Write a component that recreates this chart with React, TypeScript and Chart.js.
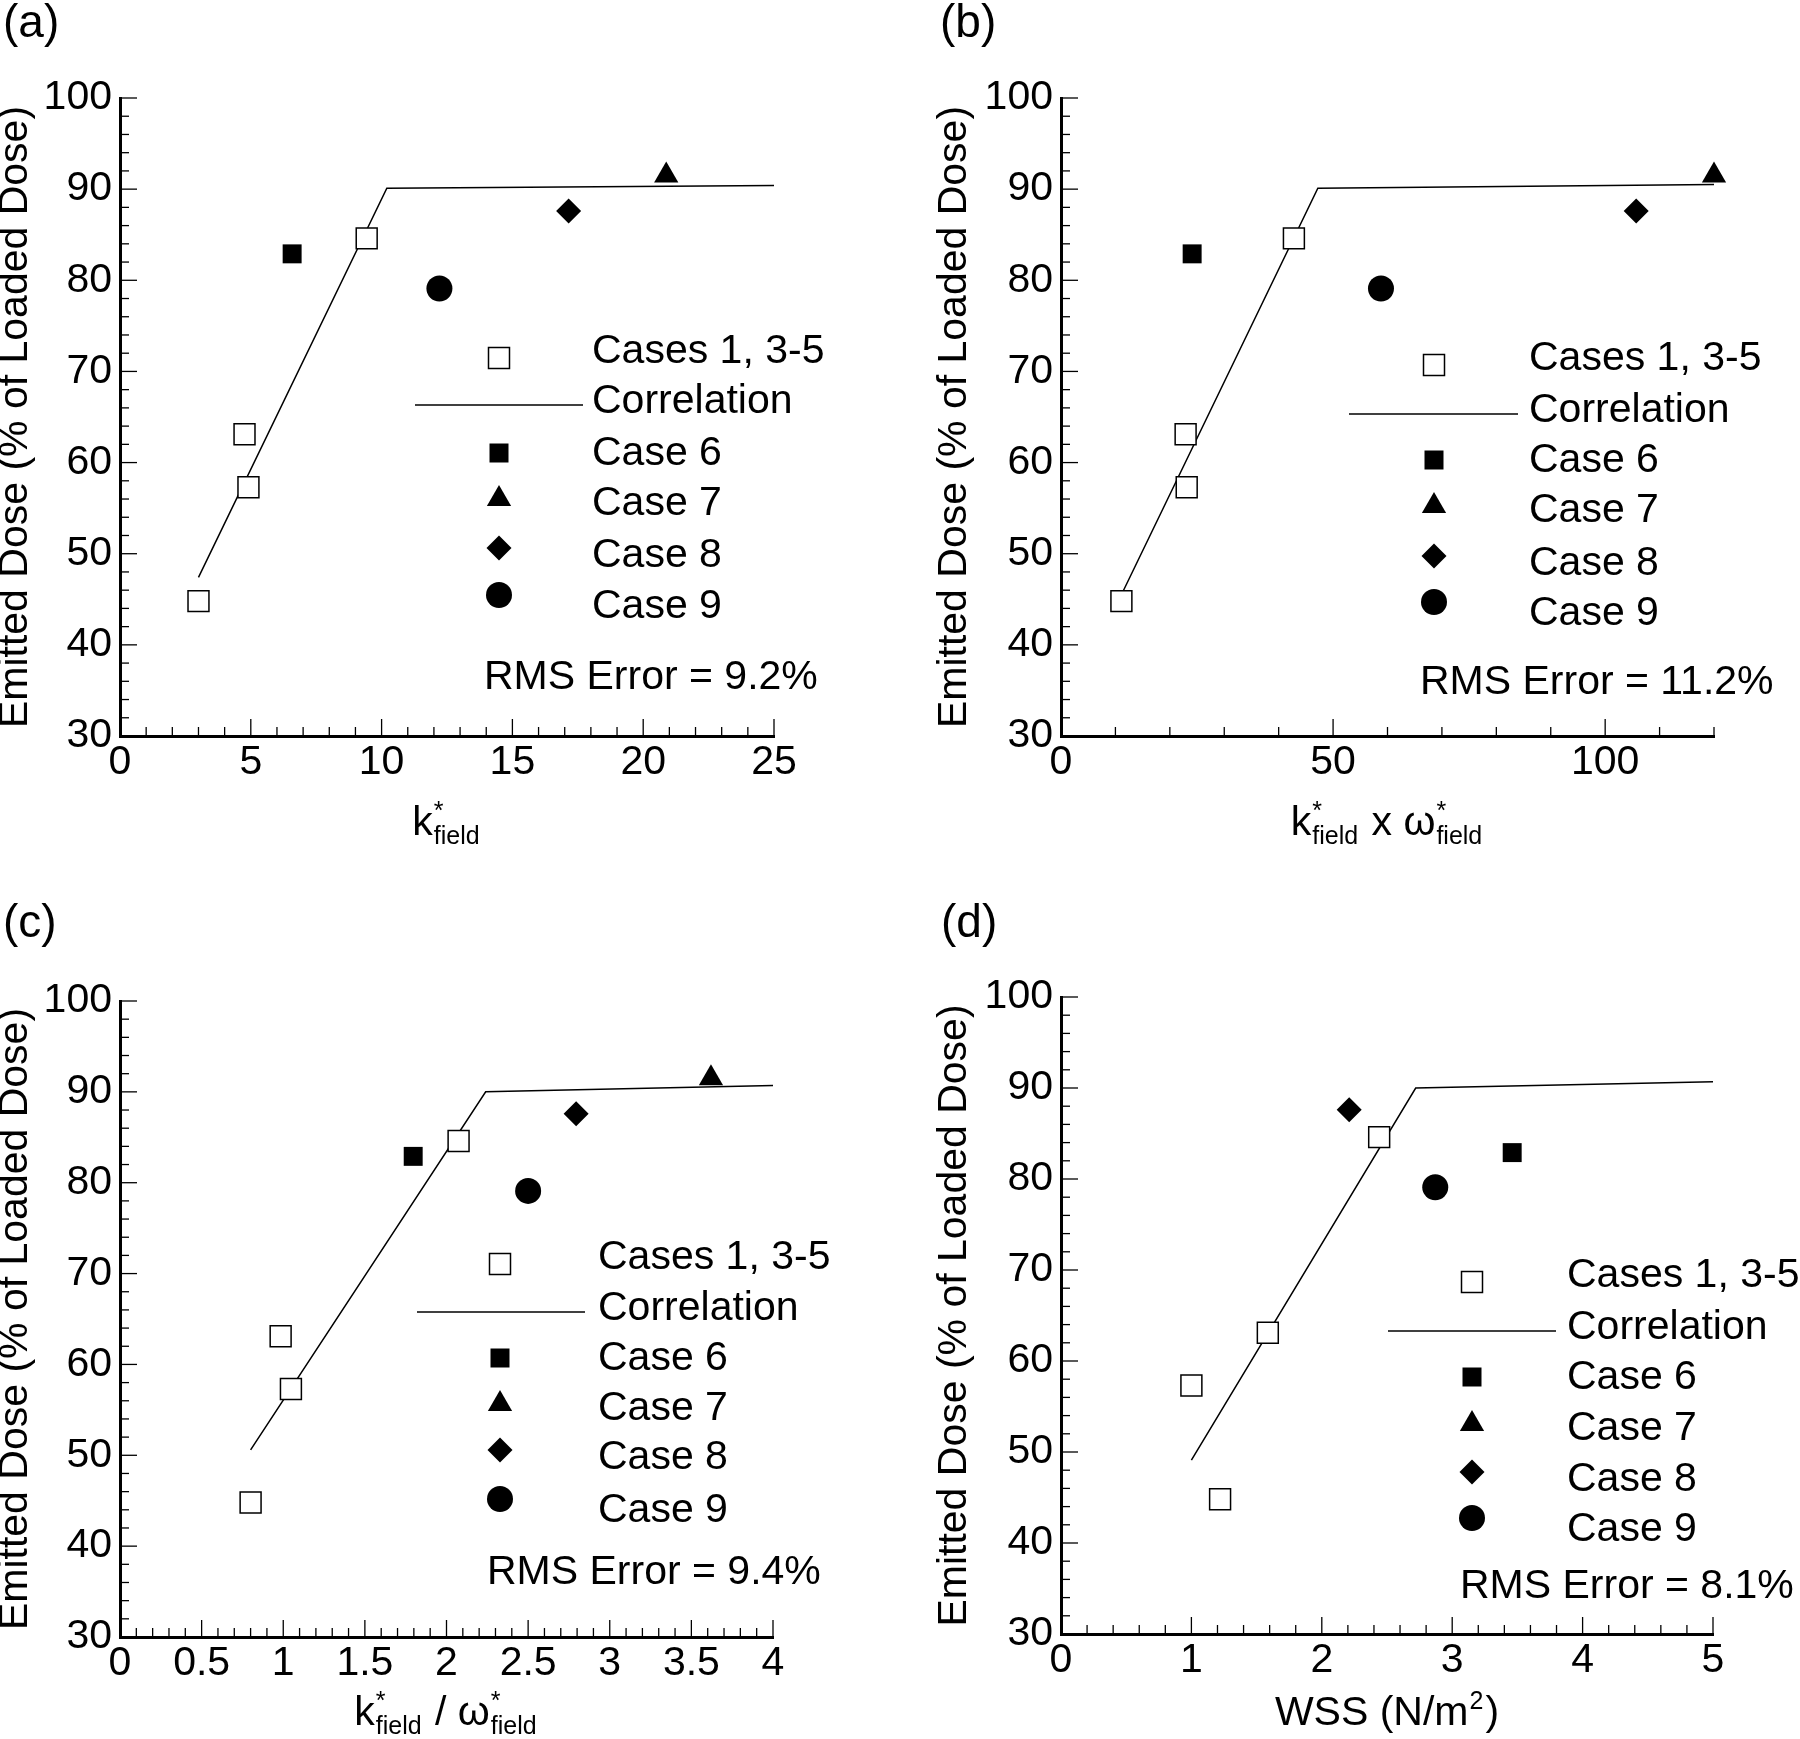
import React, { useEffect, useRef } from 'react';
import { Chart, registerables } from 'chart.js';

Chart.register(...registerables);

const FONT = '"Liberation Sans", Arial, Helvetica, sans-serif';

// ---------------- DATA ----------------
const legendNames = ['Cases 1, 3-5', 'Correlation', 'Case 6', 'Case 7', 'Case 8', 'Case 9'];
const yAxisTitle = 'Emitted Dose (% of Loaded Dose)';

// Emitted dose (% of loaded dose), same measurements in every panel
const casesY = [44.8, 63.1, 57.3, 84.6];
const case6Y = [82.9];
const case7Y = [91.5];
const case8Y = [87.6];
const case9Y = [79.1];

// Panel (a): k*field
const aCasesX = [3.0, 4.76, 4.91, 9.43];
const aCase6X = [6.58];
const aCase7X = [20.88];
const aCase8X = [17.15];
const aCase9X = [12.21];
const aCorrX = [3.0, 10.2, 25];
const aCorrY = [47.4, 90.1, 90.4];

// Panel (b): k*field x w*field
const bCasesX = [11.1, 22.9, 23.1, 42.8];
const bCase6X = [24.1];
const bCase7X = [120];
const bCase8X = [105.7];
const bCase9X = [58.8];
const bCorrX = [11.1, 47.2, 120];
const bCorrY = [45.5, 90.1, 90.5];

// Panel (c): k*field / w*field
const cCasesX = [0.8, 0.984, 1.047, 2.074];
const cCase6X = [1.796];
const cCase7X = [3.62];
const cCase8X = [2.794];
const cCase9X = [2.5];
const cCorrX = [0.8, 2.24, 4.0];
const cCorrY = [50.6, 90.0, 90.7];

// Panel (d): WSS (N/m2)
const dCasesX = [1.22, 1.586, 1.0, 2.44];
const dCase6X = [3.46];
const dCase7X: number[] = [];
const dCase8X = [2.21];
const dCase9X = [2.87];
const dCorrX = [1.0, 2.72, 5.0];
const dCorrY = [49.1, 90.0, 90.7];

const rmsLabels = ['RMS Error = 9.2%', 'RMS Error = 11.2%', 'RMS Error = 9.4%', 'RMS Error = 8.1%'];
const panelLabels = ['(a)', '(b)', '(c)', '(d)'];

// axis ranges / tick steps: [min, max, minorStep, majorStep]
const aXAxis = [0, 25, 1, 5];
const bXAxis = [0, 120, 10, 50];
const cXAxis = [0, 4, 0.1, 0.5];
const dXAxis = [0, 5, 0.2, 1];
const yAxis = [30, 100, 2, 10];

// ---------------- LAYOUT ----------------
type Tok = { n?: string; sup?: string; sub?: string };

type Panel = {
  id: string;
  label: string;
  left: number; top: number; w: number; h: number;
  padL: number; padT: number; padR: number;
  yWidth: number; xHeight: number;
  xAxis: number[];
  casesX: number[]; c6: number[]; c7: number[]; c8: number[]; c9: number[];
  corrX: number[]; corrY: number[];
  rms: string;
  title: Tok[]; titleDy: number;
  labelX: number; labelY: number;
  leg: { markerX: number; textX: number; lineX0: number; lineX1: number; rows: number[]; rmsX: number; rmsY: number };
};

const PANELS: Panel[] = [
  {
    id: 'a', label: panelLabels[0], left: 0, top: 0, w: 900, h: 870,
    padL: 0, padT: 98, padR: 126, yWidth: 120, xHeight: 134,
    xAxis: aXAxis, casesX: aCasesX, c6: aCase6X, c7: aCase7X, c8: aCase8X, c9: aCase9X,
    corrX: aCorrX, corrY: aCorrY, rms: rmsLabels[0],
    title: [{ n: 'k' }, { sup: '*', sub: 'field' }], titleDy: 99,
    labelX: 3, labelY: 37,
    leg: { markerX: 379, textX: 472, lineX0: 295, lineX1: 463, rows: [254, 304, 356, 406, 458, 509], rmsX: 364, rmsY: 580 },
  },
  {
    id: 'b', label: panelLabels[1], left: 900, top: 0, w: 900, h: 870,
    padL: 39, padT: 98, padR: 86, yWidth: 122, xHeight: 134,
    xAxis: bXAxis, casesX: bCasesX, c6: bCase6X, c7: bCase7X, c8: bCase8X, c9: bCase9X,
    corrX: bCorrX, corrY: bCorrY, rms: rmsLabels[1],
    title: [{ n: 'k' }, { sup: '*', sub: 'field' }, { n: ' x \u03C9' }, { sup: '*', sub: 'field' }], titleDy: 99,
    labelX: 40, labelY: 37,
    leg: { markerX: 373, textX: 468, lineX0: 288, lineX1: 457, rows: [261, 313, 363, 413, 466, 516], rmsX: 359, rmsY: 585 },
  },
  {
    id: 'c', label: panelLabels[2], left: 0, top: 870, w: 900, h: 869,
    padL: 0, padT: 131, padR: 127, yWidth: 120, xHeight: 102,
    xAxis: cXAxis, casesX: cCasesX, c6: cCase6X, c7: cCase7X, c8: cCase8X, c9: cCase9X,
    corrX: cCorrX, corrY: cCorrY, rms: rmsLabels[2],
    title: [{ n: 'k' }, { sup: '*', sub: 'field' }, { n: ' / \u03C9' }, { sup: '*', sub: 'field' }], titleDy: 88,
    labelX: 3, labelY: 67,
    leg: { markerX: 380, textX: 478, lineX0: 297, lineX1: 465, rows: [257, 308, 358, 408, 457, 510], rmsX: 367, rmsY: 572 },
  },
  {
    id: 'd', label: panelLabels[3], left: 900, top: 870, w: 900, h: 869,
    padL: 39, padT: 127, padR: 87, yWidth: 122, xHeight: 105,
    xAxis: dXAxis, casesX: dCasesX, c6: dCase6X, c7: dCase7X, c8: dCase8X, c9: dCase9X,
    corrX: dCorrX, corrY: dCorrY, rms: rmsLabels[3],
    title: [{ n: 'WSS (N/m' }, { sup: '2' }, { n: ')' }], titleDy: 91,
    labelX: 41, labelY: 67,
    leg: { markerX: 411, textX: 506, lineX0: 327, lineX1: 495, rows: [279, 331, 381, 432, 483, 533], rmsX: 399, rmsY: 590 },
  },
];

const markerDy = [6, 3, -1, -5, -8, -12];

// ---------------- HELPERS ----------------
const zip = (xs: number[], ys: number[]) => xs.map((x, i) => ({ x, y: ys[Math.min(i, ys.length - 1)] }));
const isMult = (v: number, m: number) => Math.abs(v / m - Math.round(v / m)) < 1e-6;
const fmt = (v: number) => String(Math.round(v * 1000) / 1000);

function drawMarker(ctx: CanvasRenderingContext2D, kind: string, x: number, y: number) {
  ctx.save();
  ctx.fillStyle = '#000';
  ctx.strokeStyle = '#000';
  ctx.lineWidth = 1.5;
  ctx.beginPath();
  if (kind === 'open') {
    const s = 10.5;
    ctx.rect(x - s, y - s, 2 * s, 2 * s);
    ctx.fillStyle = '#fff';
    ctx.fill();
    ctx.stroke();
  } else if (kind === 'square') {
    const s = 9.5;
    ctx.rect(x - s, y - s, 2 * s, 2 * s);
    ctx.fill();
  } else if (kind === 'triangle') {
    const r = 14;
    ctx.moveTo(x, y - r);
    ctx.lineTo(x + r * Math.sin(Math.PI * 2 / 3), y - r * Math.cos(Math.PI * 2 / 3));
    ctx.lineTo(x + r * Math.sin(Math.PI * 4 / 3), y - r * Math.cos(Math.PI * 4 / 3));
    ctx.closePath();
    ctx.fill();
  } else if (kind === 'diamond') {
    const r = 12.5;
    ctx.moveTo(x - r, y);
    ctx.lineTo(x, y - r);
    ctx.lineTo(x + r, y);
    ctx.lineTo(x, y + r);
    ctx.closePath();
    ctx.fill();
  } else if (kind === 'circle') {
    ctx.arc(x, y, 13, 0, Math.PI * 2);
    ctx.fill();
  }
  ctx.restore();
}

function drawRich(ctx: CanvasRenderingContext2D, toks: Tok[], cx: number, baseline: number) {
  const MAIN = 41, SMALL = 25;
  const fMain = `${MAIN}px ${FONT}`;
  const fSmall = `${SMALL}px ${FONT}`;
  const widths: number[] = [];
  let total = 0;
  for (const t of toks) {
    let w = 0;
    if (t.n !== undefined) {
      ctx.font = fMain;
      w = ctx.measureText(t.n).width;
    } else {
      ctx.font = fSmall;
      w = Math.max(t.sup ? ctx.measureText(t.sup).width : 0, t.sub ? ctx.measureText(t.sub).width : 0) + 3;
    }
    widths.push(w);
    total += w;
  }
  let x = cx - total / 2;
  ctx.textAlign = 'left';
  ctx.textBaseline = 'alphabetic';
  ctx.fillStyle = '#000';
  toks.forEach((t, i) => {
    if (t.n !== undefined) {
      ctx.font = fMain;
      ctx.fillText(t.n, x, baseline);
    } else {
      ctx.font = fSmall;
      if (t.sup) ctx.fillText(t.sup, x + 1, baseline - 16);
      if (t.sub) ctx.fillText(t.sub, x + 1, baseline + 9);
    }
    x += widths[i];
  });
}

function makePlugin(p: Panel) {
  return {
    id: 'deco_' + p.id,
    afterDraw(chart: any) {
      const ctx: CanvasRenderingContext2D = chart.ctx;
      const ca = chart.chartArea;
      const xs = chart.scales.x;
      const ys = chart.scales.y;
      ctx.save();
      // inward ticks
      ctx.strokeStyle = '#000';
      ctx.lineWidth = 1.3;
      for (const t of xs.ticks) {
        const px = xs.getPixelForValue(t.value);
        const len = isMult(t.value, p.xAxis[3]) ? 17 : 9;
        ctx.beginPath();
        ctx.moveTo(px, ca.bottom);
        ctx.lineTo(px, ca.bottom - len);
        ctx.stroke();
      }
      for (const t of ys.ticks) {
        const py = ys.getPixelForValue(t.value);
        const len = isMult(t.value, yAxis[3]) ? 17 : 9;
        ctx.beginPath();
        ctx.moveTo(ca.left, py);
        ctx.lineTo(ca.left + len, py);
        ctx.stroke();
      }
      // legend
      const L = p.leg;
      const kinds = ['open', 'line', 'square', 'triangle', 'diamond', 'circle'];
      legendNames.forEach((name, i) => {
        const ty = ca.top + L.rows[i];
        ctx.font = `41px ${FONT}`;
        ctx.fillStyle = '#000';
        ctx.strokeStyle = '#000';
        ctx.textAlign = 'left';
        ctx.textBaseline = 'middle';
        ctx.fillText(name, ca.left + L.textX, ty);
        const my = ty + markerDy[i];
        if (kinds[i] === 'line') {
          ctx.beginPath();
          ctx.lineWidth = 1.5;
          ctx.moveTo(ca.left + L.lineX0, my);
          ctx.lineTo(ca.left + L.lineX1, my);
          ctx.stroke();
        } else {
          drawMarker(ctx, kinds[i], ca.left + L.markerX, my);
        }
      });
      ctx.font = `41px ${FONT}`;
      ctx.fillStyle = '#000';
      ctx.textAlign = 'left';
      ctx.textBaseline = 'middle';
      ctx.fillText(p.rms, ca.left + L.rmsX, ca.top + L.rmsY);
      // x-axis title
      drawRich(ctx, p.title, (ca.left + ca.right) / 2, ca.bottom + p.titleDy);
      // panel label
      ctx.font = `46px ${FONT}`;
      ctx.fillStyle = '#000';
      ctx.textAlign = 'left';
      ctx.textBaseline = 'alphabetic';
      ctx.fillText(p.label, p.labelX, p.labelY);
      ctx.restore();
    },
  };
}

function buildConfig(p: Panel): any {
  const [xMin, xMax, xMinor, xMajor] = p.xAxis;
  const [yMin, yMax, yMinor, yMajor] = yAxis;
  const tickFont = { family: FONT, size: 41 };
  const mk = (label: string, data: any[], style: string, radius: number, fill: string) => ({
    label, data, pointStyle: style, pointRadius: radius, pointHoverRadius: radius,
    backgroundColor: fill, borderColor: '#000',
    borderWidth: fill === '#fff' ? 1.5 : 0,
    pointBorderWidth: fill === '#fff' ? 1.5 : 0,
    clip: false, order: 1, showLine: false,
  });
  return {
    type: 'scatter',
    data: {
      datasets: [
        mk(legendNames[0], zip(p.casesX, casesY), 'rect', 14.8, '#fff'),
        mk(legendNames[2], zip(p.c6, case6Y), 'rect', 13.4, '#000'),
        mk(legendNames[3], zip(p.c7, case7Y), 'triangle', 14, '#000'),
        mk(legendNames[4], zip(p.c8, case8Y), 'rectRot', 12.5, '#000'),
        mk(legendNames[5], zip(p.c9, case9Y), 'circle', 13, '#000'),
        {
          label: legendNames[1], data: zip(p.corrX, p.corrY), showLine: true, pointRadius: 0,
          borderColor: '#000', borderWidth: 1.5, backgroundColor: '#000', fill: false, clip: false, order: 10,
          tension: 0,
        },
      ],
    },
    options: {
      animation: false,
      responsive: false,
      maintainAspectRatio: false,
      events: [],
      layout: { padding: { left: p.padL, top: p.padT, right: p.padR, bottom: 0 } },
      plugins: { legend: { display: false }, tooltip: { enabled: false }, title: { display: false } },
      scales: {
        x: {
          type: 'linear', position: 'bottom', min: xMin, max: xMax,
          afterFit: (s: any) => { s.height = p.xHeight; },
          border: { display: true, width: 3, color: '#000' },
          grid: { display: false, drawTicks: false },
          ticks: {
            stepSize: xMinor, autoSkip: false, maxRotation: 0, minRotation: 0, padding: 2,
            color: '#000', font: tickFont,
            callback: (v: number) => (isMult(v, xMajor) ? fmt(v) : ''),
          },
        },
        y: {
          type: 'linear', position: 'left', min: yMin, max: yMax,
          afterFit: (s: any) => { s.width = p.yWidth; },
          border: { display: true, width: 3, color: '#000' },
          grid: { display: false, drawTicks: false },
          ticks: {
            stepSize: yMinor, autoSkip: false, padding: 8,
            color: '#000', font: tickFont,
            callback: (v: number) => (isMult(v, yMajor) ? fmt(v) : ''),
          },
          title: {
            display: true, text: yAxisTitle, color: '#000',
            font: { family: FONT, size: 41, lineHeight: 0.75 }, padding: 0,
          },
        },
      },
    },
    plugins: [makePlugin(p)],
  };
}

function PanelChart({ p }: { p: Panel }) {
  const ref = useRef<HTMLCanvasElement>(null);
  useEffect(() => {
    if (!ref.current) return;
    const chart = new Chart(ref.current, buildConfig(p));
    return () => chart.destroy();
  }, [p]);
  return (
    <div style={{ position: 'absolute', left: p.left, top: p.top, width: p.w, height: p.h }}>
      <canvas ref={ref} width={p.w} height={p.h} style={{ display: 'block', width: p.w, height: p.h }} />
    </div>
  );
}

export default function App() {
  return (
    <div style={{ position: 'absolute', left: 0, top: 0, width: 1800, height: 1739, background: '#fff', overflow: 'hidden' }}>
      {PANELS.map((p) => (
        <PanelChart key={p.id} p={p} />
      ))}
    </div>
  );
}
